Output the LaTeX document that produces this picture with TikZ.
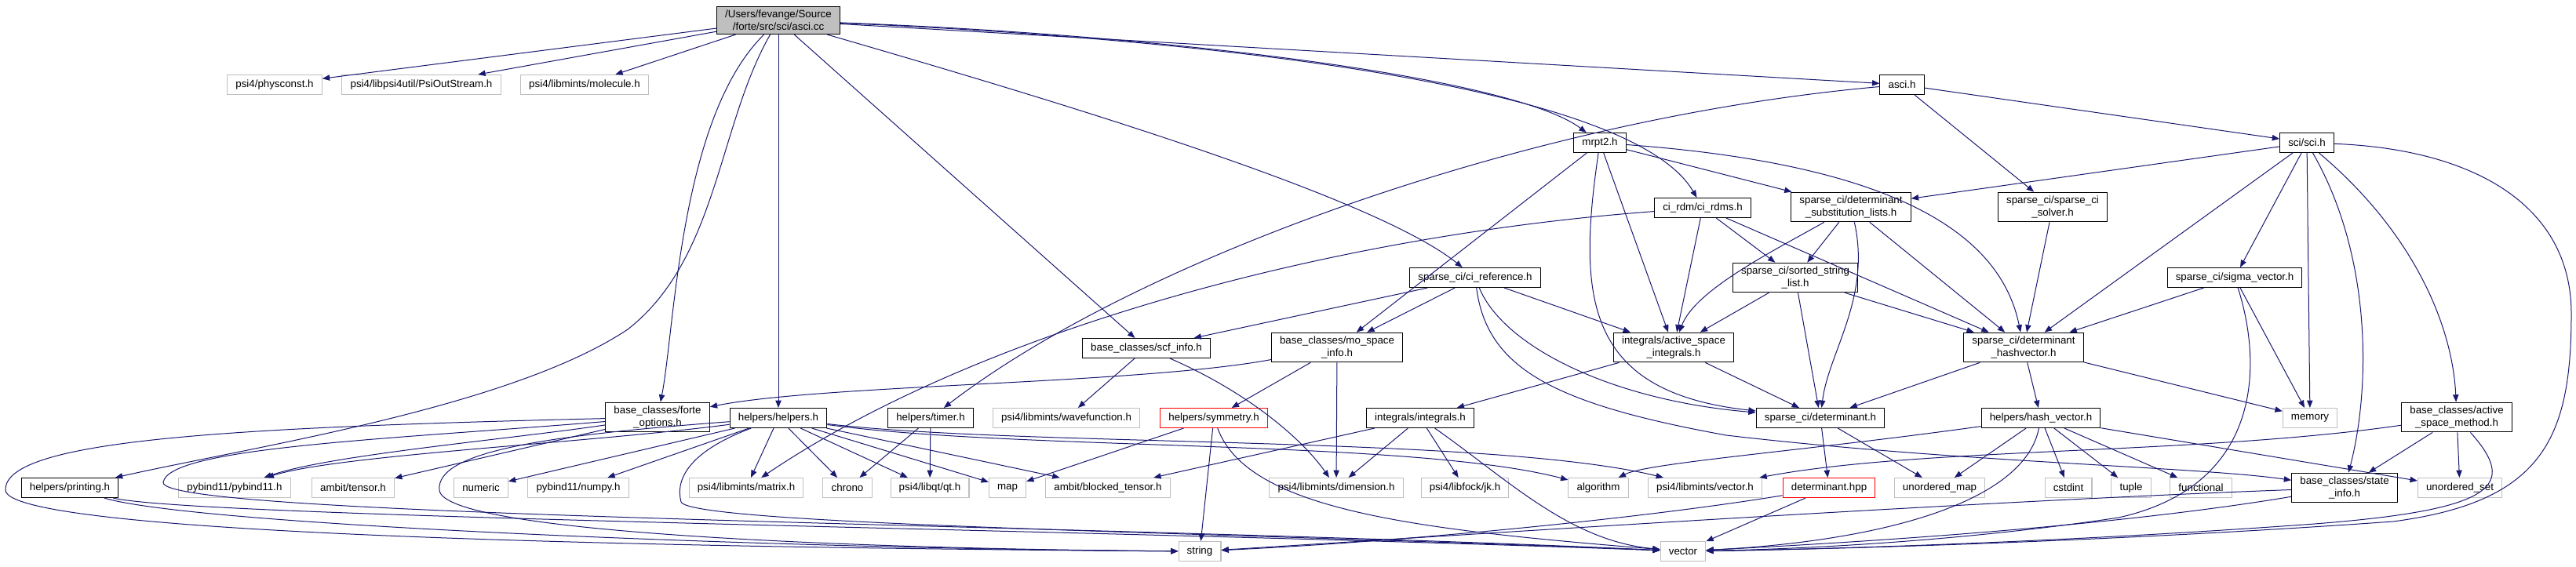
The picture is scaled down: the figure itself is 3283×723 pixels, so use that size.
\documentclass[tikz,border=0pt]{standalone}
\usepackage{fontspec}
\setmainfont{Liberation Sans}
\usetikzlibrary{arrows.meta}

\definecolor{edgeblue}{RGB}{25,25,112}
\definecolor{extgray}{RGB}{191,191,191}

\tikzset{
  file/.style={draw=black, fill=white, line width=0.8pt, align=center,
    font=\fontsize{10}{12}\selectfont, inner xsep=8pt, inner ysep=3.5pt,
    minimum height=18.75pt},
  ext/.style={file, draw=extgray},
  missing/.style={file, draw=red},
  rootfile/.style={file, fill=extgray},
  dep/.style={draw=edgeblue, line width=0.75pt, -{Triangle[length=7pt,width=5.5pt]}}
}

\begin{document}
\begin{tikzpicture}[x=0.75pt, y=-0.75pt]
  \useasboundingbox (0,0) rectangle (3283,723);

  % top
  \node[rootfile] (root) at (992,26) {/Users/fevange/Source\\/forte/src/sci/asci.cc};

  \node[ext] (physconst) at (350,108) {psi4/physconst.h};
  \node[ext] (psiout) at (537,108) {psi4/libpsi4util/PsiOutStream.h};
  \node[ext] (molecule) at (745,108) {psi4/libmints/molecule.h};
  \node[file] (ascih) at (2424,108) {asci.h};

  \node[file] (mrpt) at (2039,182) {mrpt2.h};
  \node[file] (scih) at (2940,182) {sci/sci.h};

  \node[file] (cirdms) at (2170,265) {ci\_rdm/ci\_rdms.h};
  \node[file] (detsub) at (2359,264) {sparse\_ci/determinant\\\_substitution\_lists.h};
  \node[file] (solver) at (2616,264) {sparse\_ci/sparse\_ci\\\_solver.h};

  \node[file] (ciref) at (1880,354) {sparse\_ci/ci\_reference.h};
  \node[file] (sorted) at (2288,354) {sparse\_ci/sorted\_string\\\_list.h};
  \node[file] (sigma) at (2848,354) {sparse\_ci/sigma\_vector.h};

  \node[file] (scfinfo) at (1461,444) {base\_classes/scf\_info.h};
  \node[file] (mospace) at (1704,443) {base\_classes/mo\_space\\\_info.h};
  \node[file] (asints) at (2133,443) {integrals/active\_space\\\_integrals.h};
  \node[file] (dethash) at (2579,443) {sparse\_ci/determinant\\\_hashvector.h};

  % middle row
  \node[file] (forte) at (838,532) {base\_classes/forte\\\_options.h};
  \node[file] (helpers) at (992,533) {helpers/helpers.h};
  \node[file] (timer) at (1186,533) {helpers/timer.h};
  \node[ext] (wfn) at (1359,533) {psi4/libmints/wavefunction.h};
  \node[missing] (symm) at (1547,533) {helpers/symmetry.h};
  \node[file] (ints) at (1810,533) {integrals/integrals.h};
  \node[file] (det) at (2320,533) {sparse\_ci/determinant.h};
  \node[file] (hashvec) at (2601,533) {helpers/hash\_vector.h};
  \node[ext] (memory) at (2944,533) {memory};
  \node[file] (asmethod) at (3131,532) {base\_classes/active\\\_space\_method.h};

  % lower row
  \node[file] (printing) at (89,622) {helpers/printing.h};
  \foreach \n/\x/\t in {pybind/299/{pybind11/pybind11.h}, tensor/450/{ambit/tensor.h},
      numeric/613/numeric, numpy/737/{pybind11/numpy.h}, matrix/951/{psi4/libmints/matrix.h},
      chrono/1080/chrono, qt/1185/{psi4/libqt/qt.h}, map/1284/map,
      btensor/1412/{ambit/blocked\_tensor.h}, dim/1703/{psi4/libmints/dimension.h},
      jk/1867/{psi4/libfock/jk.h}, algo/2037/algorithm, mvec/2173/{psi4/libmints/vector.h},
      umap/2472/{unordered\_map}, cstdint/2636/cstdint, tuple/2716/tuple,
      functional/2805/functional, uset/3135/{unordered\_set}}
    \node[ext] (\n) at (\x,622) {\t};
  \node[missing] (dethpp) at (2331,622) {determinant.hpp};
  \node[file] (stateinfo) at (2988,622) {base\_classes/state\\\_info.h};

  \node[ext] (string) at (1529,703) {string};
  \node[ext] (vector) at (2145,703) {vector};

  % straight includes
  \foreach \a/\b in {root/physconst, root/psiout, root/molecule, root/helpers, root/scfinfo,
      root/ascih, ascih/scih, ascih/solver, mrpt/detsub, mrpt/mospace, mrpt/asints,
      scih/detsub, scih/dethash, scih/sigma, scih/memory,
      cirdms/asints, cirdms/sorted, cirdms/dethash, detsub/sorted, detsub/dethash,
      solver/dethash, ciref/scfinfo, ciref/mospace, ciref/asints,
      sorted/asints, sorted/dethash, sorted/det, sigma/dethash, sigma/memory,
      scfinfo/wfn, mospace/symm, mospace/dim, asints/ints, asints/det,
      dethash/det, dethash/hashvec, dethash/memory, forte/tensor,
      helpers/numeric, helpers/numpy, helpers/matrix, helpers/chrono,
      helpers/qt, helpers/map, helpers/btensor, timer/chrono, timer/qt,
      symm/map, symm/string, ints/btensor, ints/dim, ints/jk, det/dethpp, det/umap,
      hashvec/umap, hashvec/cstdint, hashvec/tuple, hashvec/functional, hashvec/uset,
      dethpp/vector, asmethod/stateinfo, asmethod/uset}
    \draw[dep] (\a) -- (\b);

  % curved includes
  \draw[dep] (root) .. controls (866,150) and (860,420) .. (forte);
  \draw[dep] (root) .. controls (915,160) and (915,330) .. (800,420)
    .. controls (650,520) and (320,570) .. (printing);
  \draw[dep] (root) .. controls (1350,130) and (1750,250) .. (ciref);
  \draw[dep] (root) .. controls (1500,45) and (1930,100) .. (mrpt);
  \draw[dep] (root) .. controls (1550,50) and (2080,110) .. (cirdms);
  \draw[dep] (ascih) .. controls (1950,150) and (1450,330) .. (timer);

  \draw[dep] (mrpt) .. controls (2420,210) and (2550,300) .. (dethash);
  \draw[dep] (mrpt) .. controls (2010,380) and (2020,500) .. (det);

  \draw[dep] (scih) .. controls (3025,330) and (3020,500) .. (stateinfo);
  \draw[dep] (scih) .. controls (3080,300) and (3126,420) .. (asmethod);
  \draw[dep] (scih) .. controls (3150,190) and (3277,260) .. (3277,400)
    .. controls (3277,560) and (3240,640) .. (3050,665)
    .. controls (2700,690) and (2350,700) .. (vector);

  \draw[dep] (cirdms) .. controls (1700,300) and (1250,420) .. (matrix);
  \draw[dep] (detsub) .. controls (2260,320) and (2160,370) .. (asints);
  \draw[dep] (detsub) .. controls (2385,380) and (2330,450) .. (det);
  \draw[dep] (ciref) .. controls (1915,440) and (2050,510) .. (det);
  \draw[dep] (ciref) .. controls (1895,470) and (1980,515) .. (2200,555)
    .. controls (2500,590) and (2800,595) .. (stateinfo);
  \draw[dep] (sigma) .. controls (2885,470) and (2880,620) .. (2700,660)
    .. controls (2500,690) and (2300,700) .. (vector);

  \draw[dep] (scfinfo) .. controls (1590,500) and (1660,560) .. (dim);
  \draw[dep] (mospace) .. controls (1450,490) and (1050,490) .. (forte);

  % into pybind11 from above
  \draw[dep] (forte) .. controls (650,560) and (420,580) .. (pybind);
  \draw[dep] (helpers) .. controls (750,565) and (430,580) .. (pybind);

  % down to string / vector
  \draw[dep] (forte) .. controls (300,545) and (5,560) .. (7,625)
    .. controls (10,690) and (1100,700) .. (string);
  \draw[dep] (forte) .. controls (500,560) and (215,570) .. (208,615)
    .. controls (203,660) and (1400,668) .. (vector);
  \draw[dep] (printing) .. controls (250,670) and (1000,700) .. (string);
  \draw[dep] (printing) .. controls (250,660) and (1400,675) .. (vector);
  \draw[dep] (helpers) .. controls (700,555) and (555,575) .. (560,625)
    .. controls (565,680) and (1100,700) .. (string);
  \draw[dep] (helpers) .. controls (880,575) and (860,610) .. (868,640)
    .. controls (880,670) and (1600,680) .. (vector);
  \draw[dep] (helpers) .. controls (1300,575) and (1800,560) .. (algo);
  \draw[dep] (helpers) .. controls (1300,570) and (1900,555) .. (mvec);
  \draw[dep] (symm) .. controls (1590,650) and (1800,675) .. (vector);
  \draw[dep] (ints) .. controls (1920,610) and (2000,690) .. (vector);

  \draw[dep] (hashvec) .. controls (2300,575) and (2100,590) .. (algo);
  \draw[dep] (hashvec) .. controls (2580,640) and (2400,690) .. (vector);
  \draw[dep] (dethpp) .. controls (2100,660) and (1800,690) .. (string);
  \draw[dep] (asmethod) .. controls (2800,580) and (2450,570) .. (mvec);
  \draw[dep] (asmethod) .. controls (3210,620) and (3180,650) .. (2950,668)
    .. controls (2650,690) and (2350,700) .. (vector);
  \draw[dep] (stateinfo) .. controls (2500,640) and (1900,680) .. (string);
  \draw[dep] (stateinfo) .. controls (2700,670) and (2400,690) .. (vector);
\end{tikzpicture}
\end{document}
